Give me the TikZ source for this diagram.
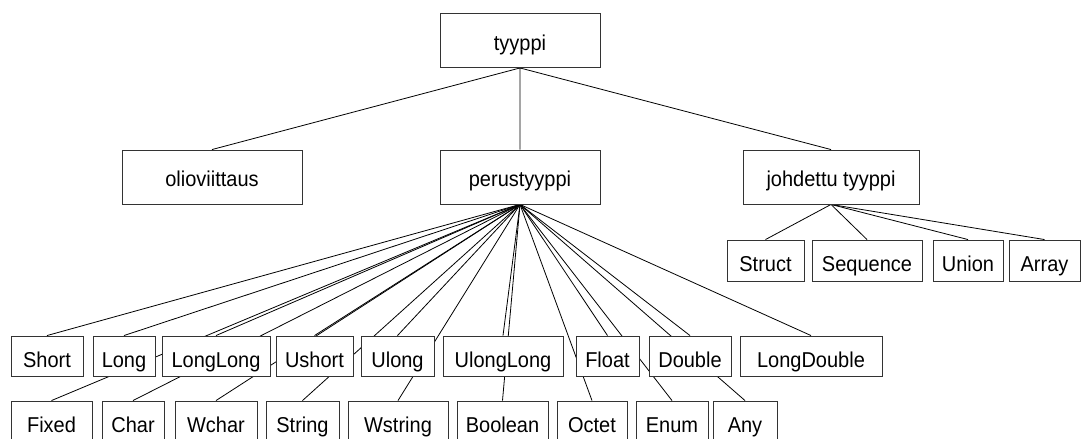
\documentclass[tikz,border=0pt]{standalone}
\usepackage{fontspec}
\setmainfont{Liberation Sans}[FakeStretch=0.93]
\usetikzlibrary{backgrounds}

\begin{document}
\begin{tikzpicture}[x=1pt, y=-1pt,
  box/.style={draw=black!80, line width=0.9pt, fill=white, inner sep=0pt,
    text depth=0pt, font=\fontsize{21.5}{25}\selectfont},
  big/.style={box, minimum height=54pt, text height=19pt},
  small/.style={box, minimum height=40pt, text height=22pt},
  link/.style={line width=0.8pt}]

\useasboundingbox (0,0) rectangle (1082,439);

% top levels
\node[big, minimum width=160pt] (tyyppi) at (520,40.5) {tyyppi};
\node[big, minimum width=180pt] (olio) at (212,177) {olioviittaus};
\node[big, minimum width=160pt] (perus) at (520,177) {perustyyppi};
\node[big, minimum width=176pt] (johd) at (831,177) {johdettu tyyppi};

% derived types
\node[small, minimum width=77pt, minimum height=41pt] (struct) at (765.5,260.5) {Struct};
\node[small, minimum width=110pt, minimum height=41pt] (sequence) at (867,260.5) {Sequence};
\node[small, minimum width=70pt, minimum height=41pt] (union) at (968,260.5) {Union};
\node[small, minimum width=71pt, minimum height=41pt] (array) at (1044.5,260.5) {Array};

% basic types, upper row
\node[small, minimum width=72pt] (short) at (47,356) {Short};
\node[small, minimum width=62pt] (long) at (124,356) {Long};
\node[small, minimum width=108pt] (longlong) at (216,356) {LongLong};
\node[small, minimum width=77pt] (ushort) at (314.5,356) {Ushort};
\node[small, minimum width=73pt] (ulong) at (397.5,356) {Ulong};
\node[small, minimum width=120pt] (ulonglong) at (503,356) {UlongLong};
\node[small, minimum width=63pt] (float) at (607.5,356) {Float};
\node[small, minimum width=82pt] (double) at (690,356) {Double};
\node[small, minimum width=142pt] (longdouble) at (811,356) {LongDouble};

% basic types, lower row
\node[small, minimum width=81pt] (fixed) at (51.5,421) {Fixed};
\node[small, minimum width=62pt] (char) at (133,421) {Char};
\node[small, minimum width=82pt] (wchar) at (216,421) {Wchar};
\node[small, minimum width=73pt] (string) at (302.5,421) {String};
\node[small, minimum width=100pt] (wstring) at (398,421) {Wstring};
\node[small, minimum width=91pt] (boolean) at (502.5,421) {Boolean};
\node[small, minimum width=70pt] (octet) at (592,421) {Octet};
\node[small, minimum width=72pt] (enum) at (672,421) {Enum};
\node[small, minimum width=64pt] (any) at (745,421) {Any};

\begin{pgfonlayer}{background}
\draw[link] (tyyppi.south)--(olio.north) (tyyppi.south)--(perus.north)
            (tyyppi.south)--(johd.north);
\foreach \t in {struct,sequence,union,array}
  \draw[link] (johd.south)--(\t.north);
\foreach \t in {short,long,longlong,ushort,ulong,ulonglong,float,double,longdouble,
                fixed,char,wchar,string,wstring,boolean,octet,enum,any}
  \draw[link] (perus.south)--(\t.north);
\end{pgfonlayer}
\end{tikzpicture}
\end{document}
